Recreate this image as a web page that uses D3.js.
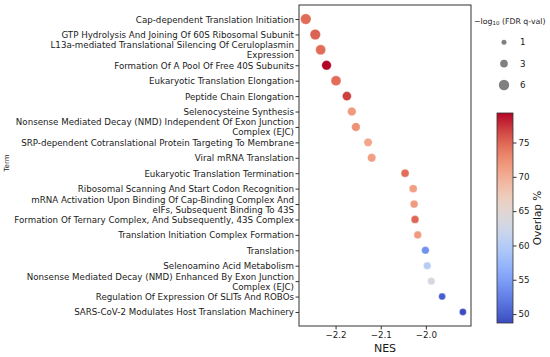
<!DOCTYPE html>
<html>
<head>
<meta charset="utf-8">
<script src="https://cdn.jsdelivr.net/npm/d3@7"></script>
<style>
  body { margin: 0; background: #fff; }
  text { font-family: "DejaVu Sans", sans-serif; fill: #1a1a1a; }
</style>
</head>
<body>
<div class="chart"></div>
<script>
var svgWidth = 550
var svgHeight = 357

// terms, top to bottom
var terms = [
    "Cap-dependent Translation Initiation",
    "GTP Hydrolysis And Joining Of 60S Ribosomal Subunit",
    "L13a-mediated Translational Silencing Of Ceruloplasmin\nExpression",
    "Formation Of A Pool Of Free 40S Subunits",
    "Eukaryotic Translation Elongation",
    "Peptide Chain Elongation",
    "Selenocysteine Synthesis",
    "Nonsense Mediated Decay (NMD) Independent Of Exon Junction\nComplex (EJC)",
    "SRP-dependent Cotranslational Protein Targeting To Membrane",
    "Viral mRNA Translation",
    "Eukaryotic Translation Termination",
    "Ribosomal Scanning And Start Codon Recognition",
    "mRNA Activation Upon Binding Of Cap-Binding Complex And\neIFs, Subsequent Binding To 43S",
    "Formation Of Ternary Complex, And Subsequently, 43S Complex",
    "Translation Initiation Complex Formation",
    "Translation",
    "Selenoamino Acid Metabolism",
    "Nonsense Mediated Decay (NMD) Enhanced By Exon Junction\nComplex (EJC)",
    "Regulation Of Expression Of SLITs And ROBOs",
    "SARS-CoV-2 Modulates Host Translation Machinery"
];

var nes = [-2.266, -2.245, -2.233, -2.220, -2.199, -2.175, -2.164, -2.155, -2.128, -2.120,
           -2.046, -2.028, -2.026, -2.024, -2.018, -2.001, -1.997, -1.988, -1.964, -1.918];

var overlap = [74.7, 75.3, 74.7, 79.3, 74.7, 76.9, 71.6, 72.3, 70.7, 71.3,
               74.7, 71.3, 71.6, 75.0, 71.6, 53.9, 60.3, 63.4, 50.0, 48.7];

// -log10(FDR q-val)
var fdr = [6.2, 6.0, 5.5, 5.0, 5.5, 4.4, 4.0, 4.0, 3.7, 3.7,
           3.3, 3.3, 3.1, 3.1, 3.0, 3.0, 2.9, 2.8, 2.4, 2.4];

var xTicks = [-2.2, -2.1, -2.0];
var sizeLegend = [1, 3, 6];
var cbarTicks = [50, 55, 60, 65, 70, 75];

var plot = { left: 299, right: 471, top: 5, bottom: 326 };

var svg = d3.select(".chart")
    .append("svg")
    .attr("width", svgWidth)
    .attr("height", svgHeight);

// matplotlib coolwarm approximation
var coolwarmStops = ["#3b4cc0", "#6282ea", "#8db0fe", "#b8d0f9", "#dddcdc",
                     "#f2cbb7", "#f49a7b", "#de6650", "#b40426"];
var coolwarm = d3.interpolateRgbBasis(coolwarmStops);

var cExtent = d3.extent(overlap);
var colorScale = d3.scaleSequential(coolwarm).domain(cExtent);

var xScale = d3.scaleLinear()
    .domain([-2.281, -1.900])
    .range([plot.left, plot.right]);

var yScale = d3.scalePoint()
    .domain(terms)
    .range([plot.top, plot.bottom])
    .padding(0.91);

// area linear in value
var rScale = function(v) { return Math.sqrt(2.1 + 4.16 * v); };

// frame
svg.append("rect")
    .attr("x", plot.left)
    .attr("y", plot.top)
    .attr("width", plot.right - plot.left)
    .attr("height", plot.bottom - plot.top)
    .attr("fill", "none")
    .attr("stroke", "#333")
    .attr("stroke-width", 1);

// x axis
var xAxis = svg.append("g")
    .attr("transform", `translate(0, ${plot.bottom})`)
    .call(d3.axisBottom(xScale).tickValues(xTicks).tickFormat(d3.format(".1f"))
        .tickSizeOuter(0).tickSize(3.5).tickPadding(2.5));
xAxis.select(".domain").remove();
xAxis.selectAll("line").attr("stroke", "#333");
xAxis.selectAll("text").style("font-size", "8.7px").attr("fill", "#1a1a1a");

svg.append("text")
    .attr("x", (plot.left + plot.right) / 2)
    .attr("y", 352)
    .attr("text-anchor", "middle")
    .style("font-size", "11px")
    .text("NES");

// y axis
var yAxis = svg.append("g")
    .attr("transform", `translate(${plot.left}, 0)`)
    .call(d3.axisLeft(yScale).tickSizeOuter(0).tickSize(3.5).tickPadding(5));
yAxis.select(".domain").remove();
yAxis.selectAll("line").attr("stroke", "#333");
yAxis.selectAll("text")
    .style("font-size", "8.7px")
    .attr("fill", "#1a1a1a")
    .attr("dy", null)
    .each(function(d) {
        var t = d3.select(this);
        var lines = d.split("\n");
        t.text(null);
        lines.forEach(function(line, i) {
            t.append("tspan")
                .attr("x", -5)
                .attr("y", (i - (lines.length - 1) / 2) * 10)
                .attr("dominant-baseline", "central")
                .text(line);
        });
    });

svg.append("text")
    .attr("transform", "translate(9, 163) rotate(-90)")
    .attr("text-anchor", "middle")
    .style("font-size", "7px")
    .text("Term");

// points
var points = terms.map(function(t, i) {
    return { term: t, nes: nes[i], overlap: overlap[i], fdr: fdr[i] };
});

svg.append("g")
    .selectAll("circle")
    .data(points)
    .enter()
    .append("circle")
    .attr("cx", d => xScale(d.nes))
    .attr("cy", d => yScale(d.term))
    .attr("r", d => rScale(d.fdr))
    .attr("fill", d => colorScale(d.overlap))
    .attr("stroke", "#fff")
    .attr("stroke-opacity", 0.6)
    .attr("stroke-width", 0.5);

// size legend
var legTitle = svg.append("text")
    .attr("x", 474)
    .attr("y", 21)
    .attr("dominant-baseline", "central")
    .style("font-size", "7.8px");
legTitle.append("tspan").text("\u2212log");
legTitle.append("tspan").attr("dy", 2).style("font-size", "5.5px").text("10");
legTitle.append("tspan").attr("dy", -2).text(" (FDR q-val)");

var legY = d3.scalePoint().domain(sizeLegend).range([42.3, 85]);

var legend = svg.append("g")
    .selectAll("g")
    .data(sizeLegend)
    .enter()
    .append("g")
    .attr("transform", d => `translate(504, ${legY(d)})`);
legend.append("circle")
    .attr("r", d => rScale(d))
    .attr("fill", "#808080");
legend.append("text")
    .attr("x", 16)
    .attr("dominant-baseline", "central")
    .style("font-size", "8.7px")
    .text(d => d);

// colorbar
var cbar = { x: 497, w: 16, top: 113, bottom: 323 };
var defs = svg.append("defs");
var grad = defs.append("linearGradient")
    .attr("id", "cbarGrad")
    .attr("x1", 0).attr("y1", 1).attr("x2", 0).attr("y2", 0);
d3.range(0, 1.0001, 0.05).forEach(function(t) {
    grad.append("stop")
        .attr("offset", t)
        .attr("stop-color", coolwarm(t));
});

svg.append("rect")
    .attr("x", cbar.x)
    .attr("y", cbar.top)
    .attr("width", cbar.w)
    .attr("height", cbar.bottom - cbar.top)
    .attr("fill", "url(#cbarGrad)")
    .attr("stroke", "#333")
    .attr("stroke-width", 0.8);

var cScale = d3.scaleLinear().domain(cExtent).range([cbar.bottom, cbar.top]);
var cAxis = svg.append("g")
    .attr("transform", `translate(${cbar.x + cbar.w}, 0)`)
    .call(d3.axisRight(cScale).tickValues(cbarTicks).tickSizeOuter(0).tickSize(3.5).tickPadding(2));
cAxis.select(".domain").remove();
cAxis.selectAll("line").attr("stroke", "#333");
cAxis.selectAll("text").style("font-size", "8.7px").attr("fill", "#1a1a1a");

svg.append("text")
    .attr("transform", `translate(541, ${(cbar.top + cbar.bottom) / 2}) rotate(-90)`)
    .attr("text-anchor", "middle")
    .style("font-size", "10.5px")
    .text("Overlap %");
</script>
</body>
</html>
